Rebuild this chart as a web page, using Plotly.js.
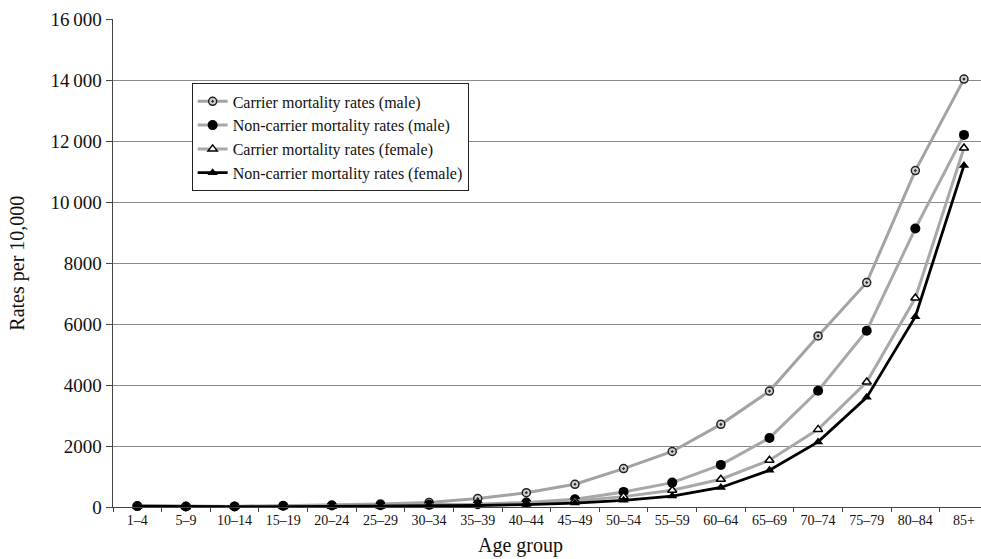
<!DOCTYPE html>
<html>
<head>
<meta charset="utf-8">
<script src="https://cdn.plot.ly/plotly-3.0.1.min.js"></script>
<style>html,body{margin:0;padding:0;background:#fff;}#chart{width:981px;height:559px;}</style>
</head>
<body>
<div id="chart"></div>
<script>
const ageGroups = ["1\u20134","5\u20139","10\u201314","15\u201319","20\u201324","25\u201329","30\u201334","35\u201339","40\u201344","45\u201349","50\u201354","55\u201359","60\u201364","65\u201369","70\u201374","75\u201379","80\u201384","85+"];
const carrierMale = [30, 15, 20, 40, 60, 100, 150, 275, 470, 745, 1260, 1820, 2710, 3800, 5610, 7360, 11030, 14030];
const nonCarrierMale = [30, 15, 20, 40, 50, 60, 70, 90, 150, 255, 495, 800, 1380, 2265, 3810, 5780, 9130, 12200];
const carrierFemale = [25, 12, 15, 20, 30, 45, 60, 80, 120, 200, 340, 550, 910, 1535, 2545, 4100, 6850, 11770];
const nonCarrierFemale = [25, 10, 10, 15, 20, 25, 35, 50, 80, 130, 220, 360, 640, 1205, 2135, 3595, 6240, 11200];
const seriesNames = ["Carrier mortality rates (male)","Non-carrier mortality rates (male)","Carrier mortality rates (female)","Non-carrier mortality rates (female)"];
const yTickVals = [0,2000,4000,6000,8000,10000,12000,14000,16000];
const yTickText = ["0","2000","4000","6000","8000","10\u2009000","12\u2009000","14\u2009000","16\u2009000"];
const xTitle = "Age group";
const yTitle = "Rates per 10,000";

const serif = "Liberation Serif, Times New Roman, serif";
const traces = [
  {x: ageGroups, y: carrierMale, name: seriesNames[0], mode: "lines+markers",
   line: {color: "#a3a3a3", width: 3}, cliponaxis: false,
   marker: {symbol: "circle-dot", size: 8, color: "#d0d0d0", line: {color: "#222", width: 1.5}}},
  {x: ageGroups, y: nonCarrierMale, name: seriesNames[1], mode: "lines+markers",
   line: {color: "#a8a8a8", width: 3}, cliponaxis: false,
   marker: {symbol: "circle", size: 10, color: "#000"}},
  {x: ageGroups, y: carrierFemale, name: seriesNames[2], mode: "lines+markers",
   line: {color: "#a8a8a8", width: 3}, cliponaxis: false,
   marker: {symbol: "triangle-up", size: 8, color: "#fff", line: {color: "#000", width: 1.5}}},
  {x: ageGroups, y: nonCarrierFemale, name: seriesNames[3], mode: "lines+markers",
   line: {color: "#000", width: 2.8}, cliponaxis: false,
   marker: {symbol: "triangle-up", size: 9, color: "#000"}}
];

const layout = {
  width: 981, height: 559,
  margin: {l: 113, r: 0, t: 19, b: 52, pad: 0},
  paper_bgcolor: "#fff", plot_bgcolor: "#fff",
  font: {family: serif, color: "#111"},
  showlegend: true,
  legend: {x: 0.0906, y: 0.868, xanchor: "left", yanchor: "top",
    bgcolor: "#fff", bordercolor: "#222", borderwidth: 1,
    font: {family: serif, size: 16, color: "#111"}, tracegroupgap: 0, itemwidth: 30},
  xaxis: {
    type: "category", range: [-0.5, 17.35],
    showgrid: false, zeroline: false,
    showline: true, linecolor: "#444", linewidth: 1,
    ticks: "outside", tickson: "boundaries", ticklen: 4, tickcolor: "#444",
    tickfont: {family: serif, size: 14, color: "#111"}
  },
  yaxis: {
    range: [0, 16000], tickvals: yTickVals, ticktext: yTickText,
    showgrid: true, gridcolor: "#8a8a8a", gridwidth: 1,
    zeroline: false, showline: true, linecolor: "#444", linewidth: 1.5,
    ticks: "outside", ticklen: 6, tickcolor: "#444",
    tickfont: {family: serif, size: 19, color: "#111"}
  },
  annotations: [
    {text: xTitle, xref: "paper", yref: "paper", x: 0.47, y: -0.079, xanchor: "center", yanchor: "middle",
     showarrow: false, font: {family: serif, size: 20, color: "#111"}},
    {text: yTitle, xref: "paper", yref: "paper", x: -0.111, y: 0.5, xanchor: "center", yanchor: "middle",
     textangle: -90, showarrow: false, font: {family: serif, size: 20, color: "#111"}}
  ]
};

Plotly.newPlot("chart", traces, layout, {displayModeBar: false, staticPlot: true});
</script>
</body>
</html>
